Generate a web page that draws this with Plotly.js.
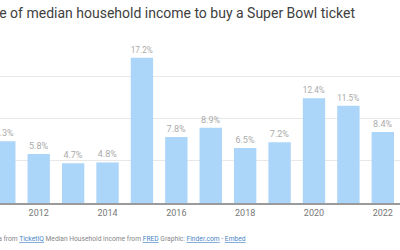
<!DOCTYPE html>
<html>
<head>
<meta charset="utf-8">
<script src="https://cdn.plot.ly/plotly-3.0.1.min.js"></script>
<style>
  html, body { margin: 0; padding: 0; background: #ffffff; }
  #chart { width: 400px; height: 250px; }
</style>
</head>
<body>
<div id="chart"></div>
<script>
// Super Bowl ticket price as a share of median household income, by year
const years = [2011, 2012, 2013, 2014, 2015, 2016, 2017, 2018, 2019, 2020, 2021, 2022];
const sharePct = [7.3, 5.8, 4.7, 4.8, 17.2, 7.8, 8.9, 6.5, 7.2, 12.4, 11.5, 8.4];
const yearTicks = [2012, 2014, 2016, 2018, 2020, 2022];
const gridTicks = [0, 5, 10, 15, 20];

const titleText = 'Percentage of median household income to buy a Super Bowl ticket';
const linkStyle = 'color:#4a86c5;text-decoration:underline';
const sourceText =
  'Data from <a href="https://www.ticketiq.com" style="' + linkStyle + '">TicketIQ</a> ' +
  'Median Household income from <a href="https://fred.stlouisfed.org" style="' + linkStyle + '">FRED</a> ' +
  'Graphic: <a href="https://www.finder.com" style="' + linkStyle + '">Finder.com</a> - ' +
  '<a href="#" style="' + linkStyle + '">Embed</a>';

const font = 'Roboto, "Open Sans", sans-serif';

const trace = {
  type: 'bar',
  x: years,
  y: sharePct,
  marker: { color: '#abd5f9', line: { width: 0 } },
  text: sharePct.map(v => v.toFixed(1) + '%'),
  textposition: 'outside',
  cliponaxis: false,
  textfont: { family: font, size: 9, color: '#aaaaaa' },
  hoverinfo: 'skip'
};

const layout = {
  width: 400,
  height: 250,
  margin: { l: 0, r: 0, t: 34, b: 47, pad: 0 },
  paper_bgcolor: '#ffffff',
  plot_bgcolor: '#ffffff',
  showlegend: false,
  bargap: 0.35,
  font: { family: font },
  title: {
    text: titleText,
    font: { family: font, size: 14, color: '#404040' },
    xref: 'container', yref: 'container',
    x: 355 / 400, xanchor: 'right',
    y: 1 - 13 / 250, yanchor: 'middle'
  },
  xaxis: {
    type: 'linear',
    range: [2010.875, 2022.5],
    tickmode: 'array',
    tickvals: yearTicks,
    ticktext: yearTicks.map(String),
    ticks: '',
    showgrid: false,
    zeroline: false,
    showline: true,
    linecolor: '#9a9a9a',
    linewidth: 2,
    tickfont: { family: font, size: 9, color: '#777777' },
    fixedrange: true
  },
  yaxis: {
    range: [0, 20],
    tickmode: 'array',
    tickvals: gridTicks,
    showticklabels: false,
    showgrid: true,
    gridcolor: '#e8e8e8',
    gridwidth: 1,
    zeroline: false,
    ticks: '',
    fixedrange: true
  },
  annotations: [{
    text: sourceText,
    xref: 'paper', yref: 'paper',
    x: 248 / 400, xanchor: 'right',
    y: (203 - 239) / 169, yanchor: 'middle',
    showarrow: false,
    font: { family: font, size: 6.7, color: '#888888' }
  }]
};

Plotly.newPlot('chart', [trace], layout, { displayModeBar: false, staticPlot: true });
</script>
</body>
</html>
